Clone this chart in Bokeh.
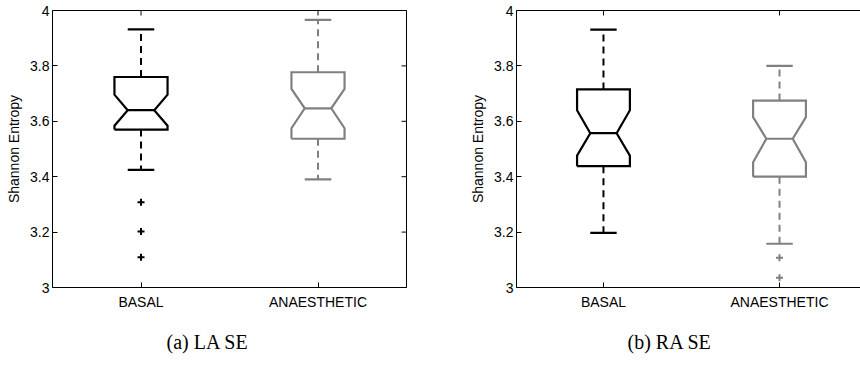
import math

from bokeh.plotting import figure
from bokeh.layouts import row
from bokeh.models import FixedTicker, LinearAxis, Title, Range1d
from bokeh.embed import file_html
from bokeh.resources import INLINE

# Groups and colours
categories = ["BASAL", "ANAESTHETIC"]
group_colors = ["#000000", "#808080"]

# Y axis ticks
y_ticks = [3.0, 3.2, 3.4, 3.6, 3.8, 4.0]
y_tick_labels = ["3", "3.2", "3.4", "3.6", "3.8", "4"]

# Panel (a): LA SE  -- per group: lower whisker, Q1, notch low, median, notch high, Q3, upper whisker
la_whisker_lo = [3.425, 3.39]
la_q1 = [3.57, 3.537]
la_notch_lo = [3.584, 3.575]
la_median = [3.64, 3.647]
la_notch_hi = [3.696, 3.717]
la_q3 = [3.76, 3.777]
la_whisker_hi = [3.932, 3.966]
la_outliers = [[3.308, 3.202, 3.109], []]

# Panel (b): RA SE
ra_whisker_lo = [3.197, 3.158]
ra_q1 = [3.438, 3.40]
ra_notch_lo = [3.476, 3.452]
ra_median = [3.557, 3.537]
ra_notch_hi = [3.64, 3.615]
ra_q3 = [3.715, 3.675]
ra_whisker_hi = [3.931, 3.80]
ra_outliers = [[], [3.107, 3.035]]

FONT = "Liberation Sans"
SERIF = "Liberation Serif"
BOX_HALF = 0.15
NOTCH_HALF = 0.075
CAP_HALF = 0.075
Y_MIN, Y_MAX = 3.0, 4.0


def style_axis(ax):
    ax.axis_line_color = "black"
    ax.axis_line_width = 1
    ax.major_tick_in = 5
    ax.major_tick_out = 0
    ax.minor_tick_line_color = None
    ax.major_tick_line_color = "black"
    ax.major_label_text_font = FONT
    ax.major_label_text_font_size = "14px"
    ax.major_label_text_color = "black"


def panel(caption, wlo, q1, nlo, med, nhi, q3, whi, outl, x_range, width,
          border_left, border_right, caption_offset, right_axis=True):
    p = figure(width=width, height=369, output_backend="svg", toolbar_location=None,
               x_range=Range1d(*x_range), y_range=Range1d(Y_MIN, Y_MAX),
               min_border_left=border_left, min_border_right=border_right,
               min_border_top=10, min_border_bottom=82)
    p.xaxis.visible = False
    p.yaxis.visible = False
    p.grid.visible = False
    p.outline_line_color = None
    p.background_fill_color = "white"
    p.border_fill_color = "white"

    xs = [i + 1 for i in range(len(categories))]
    x_labels = {x: c for x, c in zip(xs, categories)}

    bottom = LinearAxis(ticker=FixedTicker(ticks=xs), major_label_overrides=x_labels)
    style_axis(bottom)
    bottom.major_label_standoff = 6
    p.add_layout(bottom, "below")

    left = LinearAxis(ticker=FixedTicker(ticks=y_ticks),
                      major_label_overrides=dict(zip(y_ticks, y_tick_labels)),
                      axis_label="Shannon Entropy")
    style_axis(left)
    left.major_label_standoff = 3
    left.axis_label_text_font = FONT
    left.axis_label_text_font_style = "normal"
    left.axis_label_text_font_size = "14px"
    left.axis_label_text_color = "black"
    left.axis_label_standoff = 5
    p.add_layout(left, "left")

    # box border lines (top, and right when the panel has one)
    top = LinearAxis(ticker=FixedTicker(ticks=[]))
    style_axis(top)
    p.add_layout(top, "above")
    # inward ticks on the top border (clipped to the frame)
    p.scatter(xs, [Y_MAX] * len(xs), marker="dash", size=10, angle=math.pi / 2,
              line_color="black", line_width=1)

    if right_axis:
        right = LinearAxis(ticker=FixedTicker(ticks=[]))
        style_axis(right)
        p.add_layout(right, "right")
        p.scatter([x_range[1]] * len(y_ticks), y_ticks, marker="dash", size=10,
                  line_color="black", line_width=1)

    for i, x in enumerate(xs):
        c = group_colors[i]
        # notched box outline
        bx = [x - BOX_HALF, x + BOX_HALF, x + BOX_HALF, x + NOTCH_HALF, x + BOX_HALF,
              x + BOX_HALF, x - BOX_HALF, x - BOX_HALF, x - NOTCH_HALF, x - BOX_HALF,
              x - BOX_HALF]
        by = [q1[i], q1[i], nlo[i], med[i], nhi[i], q3[i], q3[i], nhi[i], med[i],
              nlo[i], q1[i]]
        p.line(bx, by, line_color=c, line_width=2.2, line_join="miter")
        # median
        p.line([x - NOTCH_HALF, x + NOTCH_HALF], [med[i], med[i]], line_color=c, line_width=2.2)
        # whiskers
        p.line([x, x], [q3[i], whi[i]], line_color=c, line_width=2, line_dash="7 5")
        p.line([x, x], [q1[i], wlo[i]], line_color=c, line_width=2, line_dash="7 5")
        p.line([x - CAP_HALF, x + CAP_HALF], [whi[i], whi[i]], line_color=c, line_width=2.2)
        p.line([x - CAP_HALF, x + CAP_HALF], [wlo[i], wlo[i]], line_color=c, line_width=2.2)
        # outliers
        if outl[i]:
            p.scatter([x] * len(outl[i]), outl[i], marker="cross", size=7,
                      line_color=c, line_width=2)

    # sub-figure caption under the axis
    cap = Title(text=caption, align="left", offset=caption_offset, standoff=32,
                text_font=SERIF, text_font_size="20px", text_font_style="normal",
                text_color="black")
    p.add_layout(cap, "below")
    return p


pa = panel("(a) LA SE", la_whisker_lo, la_q1, la_notch_lo, la_median, la_notch_hi,
           la_q3, la_whisker_hi, la_outliers, (0.5, 2.5), 430, 52, 24, 114)
pb = panel("(b) RA SE", ra_whisker_lo, ra_q1, ra_notch_lo, ra_median, ra_notch_hi,
           ra_q3, ra_whisker_hi, ra_outliers, (0.506, 2.46), 430, 86, 0, 111,
           right_axis=False)

layout = row(pa, pb, spacing=0)

with open("out.html", "w") as f:
    f.write(file_html(layout, INLINE))
